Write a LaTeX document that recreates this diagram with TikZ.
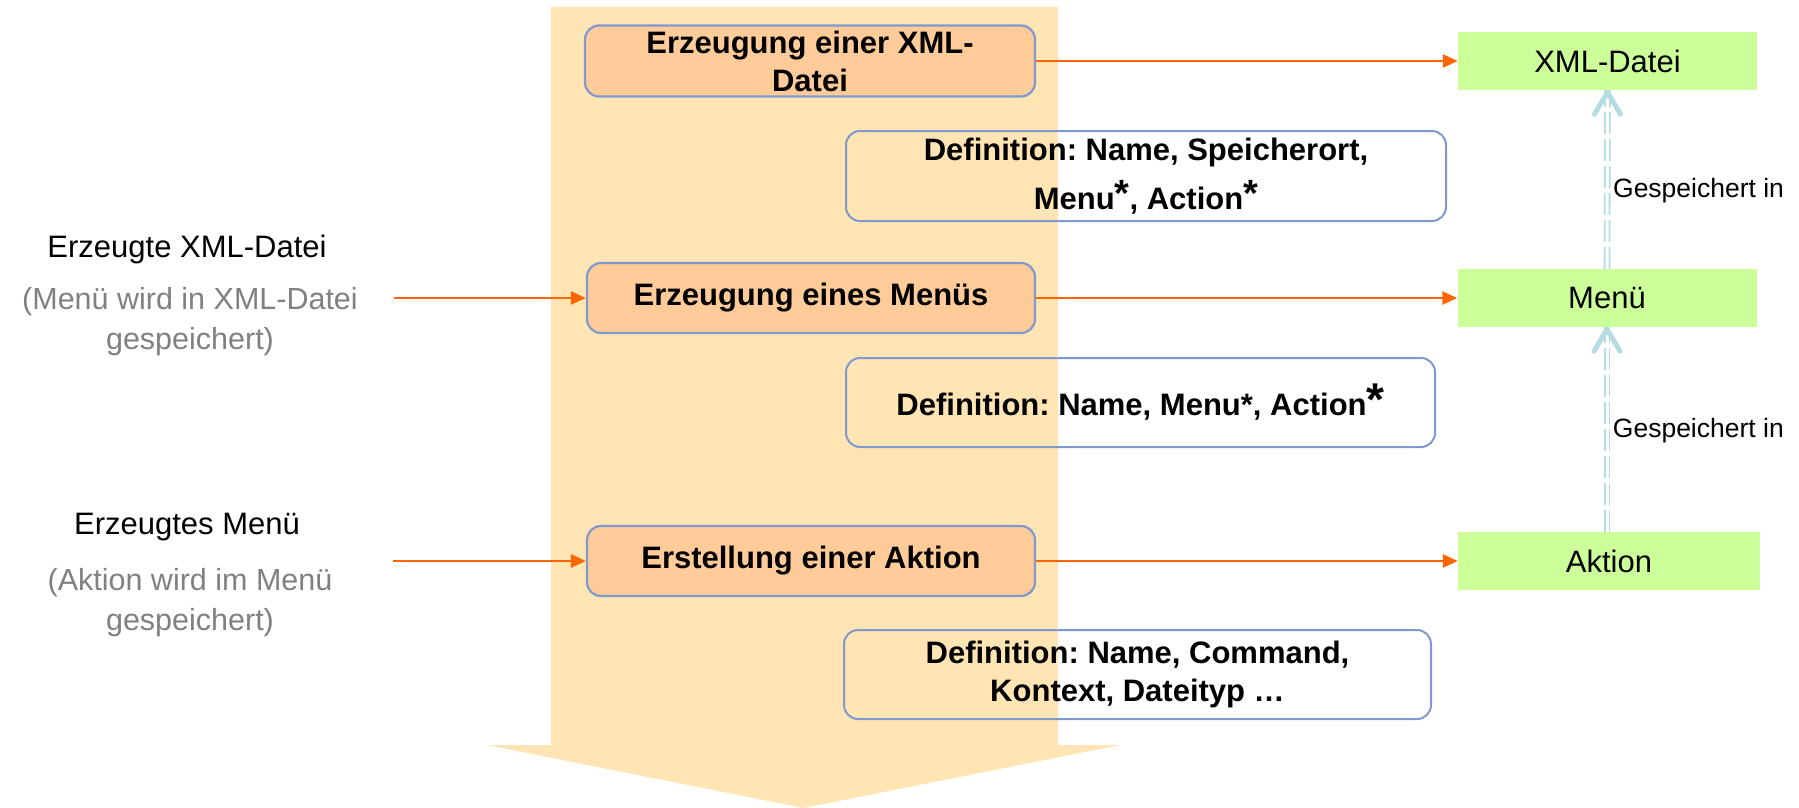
\documentclass[tikz,border=0pt]{standalone}
\usepackage{fontspec}
\setmainfont{Liberation Sans}
\usetikzlibrary{arrows.meta}
\definecolor{flowc}{HTML}{FFE5B3}
\definecolor{peach}{HTML}{FFCC99}
\definecolor{bord}{HTML}{7F99D0}
\definecolor{limec}{HTML}{CCFF99}
\definecolor{orng}{HTML}{FF6600}
\definecolor{storec}{HTML}{B5DCE0}
\definecolor{grtxt}{HTML}{808080}
\frenchspacing
\begin{document}
\begin{tikzpicture}[x=1pt,y=-1pt,
  stepbox/.style={draw=bord, line width=2.2pt, rounded corners=14pt, fill=peach,
    font=\fontsize{31}{38}\selectfont\bfseries, align=center, inner sep=0pt,
    minimum width=448pt, minimum height=70pt},
  defbox/.style={draw=bord, line width=2pt, rounded corners=14pt,
    font=\fontsize{31}{38}\selectfont\bfseries, align=center, inner sep=0pt,
    minimum height=89pt},
  greenbox/.style={fill=limec, font=\fontsize{31}{38}\selectfont, inner sep=0pt,
    minimum width=299pt, minimum height=58pt},
  flowarrow/.style={draw=orng, line width=2.5pt, -{Triangle[length=15pt,width=13pt]}},
  storeline/.style={draw=storec, line width=1.8pt, double=white, double distance=3pt,
    dash pattern=on 22pt off 5pt},
  chevron/.style={draw=storec, line width=5pt, line cap=round, line join=round},
  lefttext/.style={font=\fontsize{31}{40}\selectfont, align=center, inner sep=0pt},
  graytext/.style={lefttext, font=\fontsize{30.5}{40}\selectfont, text=grtxt},
  storelabel/.style={font=\fontsize{26.5}{30}\selectfont, inner sep=0pt, anchor=west, xshift=5pt}
]
\useasboundingbox (0,0) rectangle (1799,808);

% big process arrow
\fill[flowc] (551,7) -- (1058,7) -- (1058,745) -- (1120,745) -- (803.5,808)
  -- (487,745) -- (551,745) -- cycle;

% process steps
\node[stepbox, minimum width=450pt, minimum height=71pt] (s1) at (810,61)
  {Erzeugung einer XML-\\Datei};
\node[stepbox] (s2) at (811,298) {Erzeugung eines Menüs};
\node[stepbox] (s3) at (811,561) {Erstellung einer Aktion};

% definitions
\node[defbox, minimum width=600pt, minimum height=90pt] (d1) at (1146,176)
  {Definition: Name, Speicherort,\\[11pt]Menu\raisebox{3pt}{\fontsize{38}{38}\selectfont *}, Action\raisebox{3pt}{\fontsize{38}{38}\selectfont *}};
\node[defbox, minimum width=589pt] (d2) at (1140.5,402.5)
  {Definition: Name, Menu*, Action{\fontsize{46}{46}\selectfont *}};
\node[defbox, minimum width=587pt] (d3) at (1137.5,674.5)
  {Definition: Name, Command,\\Kontext, Dateityp …};

% results
\node[greenbox] (xml) at (1607.5,61) {XML-Datei};
\node[greenbox] (menu) at (1607,298) {Menü};
\node[greenbox, minimum width=302pt] (akt) at (1609,561) {Aktion};

% left inputs
\node[lefttext] (in1) at (187,249) {Erzeugte XML-Datei};
\node[graytext] (in1g) at (190,322) {(Menü wird in XML-Datei\\gespeichert)};
\node[lefttext] (in2) at (187,527) {Erzeugtes Menü};
\node[graytext] (in2g) at (190,603) {(Aktion wird im Menü\\gespeichert)};
\coordinate (a2) at (394,298);
\coordinate (a3) at (393,561);

% orange connectors
\draw[flowarrow] (a2) -- (s2.west);
\draw[flowarrow] (a3) -- (s3.west);
\draw[flowarrow] (s1.east) -- (xml.west);
\draw[flowarrow] (s2.east) -- (menu.west);
\draw[flowarrow] (s3.east) -- (akt.west);

% stored-in connectors
\draw[storeline] (menu.north) -- (xml.south)
  node[storelabel, pos=0.44] (l1) {Gespeichert in};
\draw[chevron] ([xshift=-13pt,yshift=-24pt]xml.south) -- ([yshift=-2pt]xml.south)
  -- ([xshift=13pt,yshift=-24pt]xml.south);
\draw[storeline] ([xshift=-2pt]akt.north) -- (menu.south)
  node[storelabel, pos=0.495] (l2) {Gespeichert in};
\draw[chevron] ([xshift=-13pt,yshift=-24pt]menu.south) -- ([yshift=-2pt]menu.south)
  -- ([xshift=13pt,yshift=-24pt]menu.south);
\end{tikzpicture}
\end{document}
